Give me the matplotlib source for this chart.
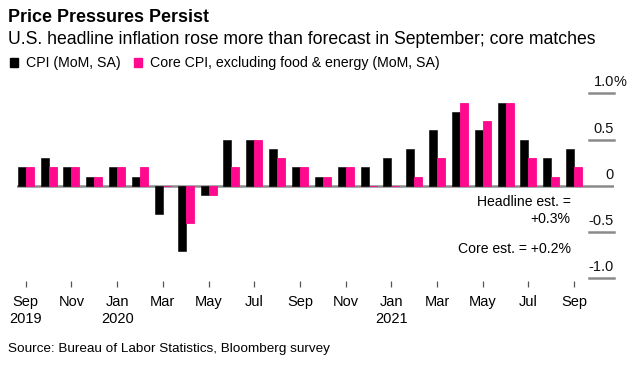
import numpy as np
import matplotlib
matplotlib.use("Agg")
import matplotlib.pyplot as plt
from matplotlib.patches import Patch

plt.rcParams["font.family"] = ["Liberation Sans", "DejaVu Sans"]

# monthly CPI changes, Sep 2019 .. Sep 2021 (MoM %, SA)
months = ["Sep 2019", "Oct 2019", "Nov 2019", "Dec 2019", "Jan 2020", "Feb 2020",
          "Mar 2020", "Apr 2020", "May 2020", "Jun 2020", "Jul 2020", "Aug 2020",
          "Sep 2020", "Oct 2020", "Nov 2020", "Dec 2020", "Jan 2021", "Feb 2021",
          "Mar 2021", "Apr 2021", "May 2021", "Jun 2021", "Jul 2021", "Aug 2021",
          "Sep 2021"]
cpi = [0.2, 0.3, 0.2, 0.1, 0.2, 0.1, -0.3, -0.7, -0.1, 0.5, 0.5, 0.4,
       0.2, 0.1, 0.2, 0.2, 0.3, 0.4, 0.6, 0.8, 0.6, 0.9, 0.5, 0.3, 0.4]
core = [0.2, 0.2, 0.2, 0.1, 0.2, 0.2, 0.0, -0.4, -0.1, 0.2, 0.5, 0.3,
        0.2, 0.1, 0.2, 0.0, 0.0, 0.1, 0.3, 0.9, 0.7, 0.9, 0.3, 0.1, 0.2]
xtick_labels = ["Sep\n2019", "Nov", "Jan\n2020", "Mar", "May", "Jul", "Sep",
                "Nov", "Jan\n2021", "Mar", "May", "Jul", "Sep"]
yticks = [1.0, 0.5, 0.0, -0.5, -1.0]
ytick_labels = ["1.0", "0.5", "0", "-0.5", "-1.0"]

BLACK = "#000000"
PINK = "#FF0A8F"
GRAY = "#8a8a8a"

fig = plt.figure(figsize=(6.4, 3.68), dpi=100)
ax = fig.add_axes([0.027, 0.2361, 0.9323, 0.5103])

x = np.arange(len(months))
w = 0.35
ax.bar(x - w / 2, cpi, width=w, color=BLACK, edgecolor=BLACK, lw=0.4, zorder=3)
ax.bar(x + w / 2, core, width=w, color=PINK, edgecolor=PINK, lw=0.6, zorder=3)

XL, XR = -0.37, 25.74
ax.set_xlim(XL, XR)
ax.set_ylim(-1.03, 1.0)
ax.axhline(0, color=GRAY, lw=1.8, zorder=2)

# short gridline stubs on the right with labels sitting above them
gx0 = 24.64
for v, lab in zip(yticks, ytick_labels):
    if v != 0:
        ax.plot([gx0, XR], [v, v], color=GRAY, lw=1.8, clip_on=False, zorder=2)
    ax.annotate(lab, xy=(XR, v), xytext=(0, 5), textcoords="offset points",
                ha="right", va="baseline", fontsize=10.5, color="#111111")
ax.annotate("%", xy=(XR, 1.0), xytext=(0, 5), textcoords="offset points",
            ha="left", va="baseline", fontsize=10.5, color="#111111")

ax.text(23.84, -0.178, "Headline est. =", ha="right", va="center", fontsize=10.1)
ax.text(23.84, -0.357, "+0.3%", ha="right", va="center", fontsize=10.1)
ax.text(23.84, -0.68, "Core est. = +0.2%", ha="right", va="center", fontsize=10.1)

ax.set_xticks(x[::2])
ax.set_xticklabels(xtick_labels, fontsize=10.5, linespacing=1.25)
ax.tick_params(axis="x", length=4, width=0.9, color="#555555", pad=6)
ax.set_yticks([])
for s in ax.spines.values():
    s.set_visible(False)

fig.text(0.0125, 0.953, "Price Pressures Persist", fontsize=12.9,
         fontweight="bold", va="center")
fig.text(0.0125, 0.892, "U.S. headline inflation rose more than forecast in "
         "September; core matches", fontsize=12.7, va="center")

handles = [Patch(color=BLACK), Patch(color=PINK)]
fig.legend(handles, ["CPI (MoM, SA)", "Core CPI, excluding food & energy (MoM, SA)"],
           loc="center left", bbox_to_anchor=(0.015, 0.828), ncol=2,
           frameon=False, fontsize=10.2, handlelength=0.6, handleheight=0.6,
           handletextpad=0.55, columnspacing=0.95, borderaxespad=0, borderpad=0)

fig.text(0.0125, 0.051, "Source: Bureau of Labor Statistics, Bloomberg survey",
         fontsize=9.7, va="center")

fig.savefig("out.png", dpi=100)
